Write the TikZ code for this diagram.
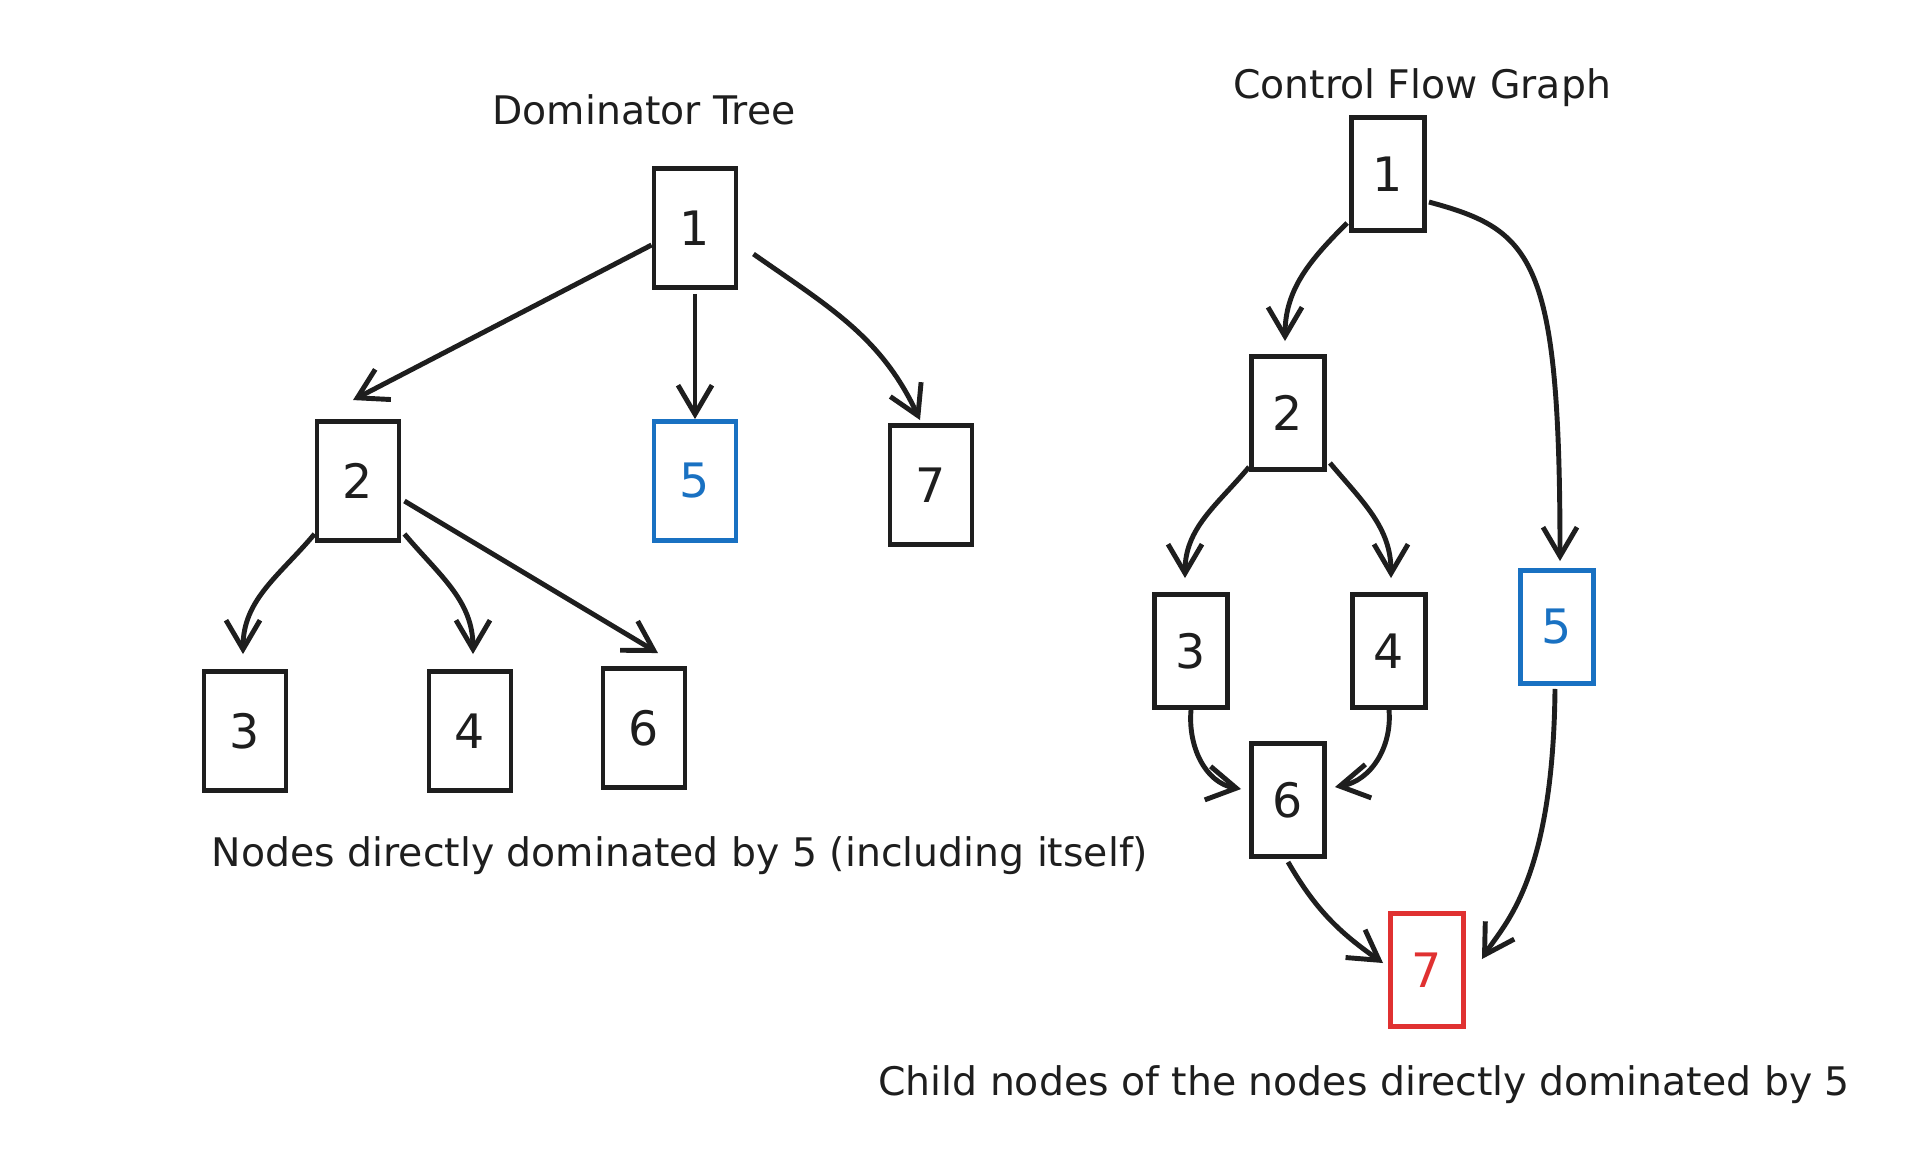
\documentclass[tikz,border=0pt]{standalone}
\usepackage{fontspec}
\setmainfont{DejaVu Sans}
\usetikzlibrary{shapes,arrows.meta}
\definecolor{ink}{HTML}{1E1E1E}
\definecolor{domblue}{HTML}{1971C2}
\definecolor{domred}{HTML}{E03131}
\tikzstyle{block} = [rectangle, draw=ink, line width=1.4pt, text=ink,
    minimum width=0.82cm, minimum height=1.19cm, inner sep=0pt, font=\fontsize{13.5}{15}\selectfont]
\tikzstyle{cfblock} = [block, minimum width=0.73cm, minimum height=1.13cm]
\tikzstyle{line} = [draw=ink, line width=1.4pt, -{Straight Barb[length=2.9mm, width=3.4mm]}]
\tikzstyle{caption} = [text=ink, font=\fontsize{11.2}{13}\selectfont]

\begin{document}
\begin{tikzpicture}[node distance = 2.5cm, auto]
        \useasboundingbox (0,0) rectangle (19.23,-11.65);
        % Place nodes: dominator tree
        \node [block] (dt1) at (6.95,-2.28) {1};
        \node [block, below of=dt1, node distance=2.53cm, xshift=-3.37cm] (dt2) {2};
        \node [block, below of=dt1, node distance=2.53cm, draw=domblue, text=domblue] (dt5) {5};
        \node [block, below of=dt1, node distance=2.57cm, xshift=2.36cm] (dt7) {7};
        \node [block, below of=dt2, xshift=-1.13cm] (dt3) {3};
        \node [block, below of=dt2, xshift=1.12cm] (dt4) {4};
        \node [block, below of=dt2, node distance=2.47cm, xshift=2.86cm] (dt6) {6};
        \node [caption, above of=dt1, node distance=1.18cm, xshift=-0.51cm] (dttitle) {Dominator Tree};
        \node [caption] (dtnote) at (6.80,-8.56) {Nodes directly dominated by 5 (including itself)};
        % Place nodes: control flow graph
        \node [cfblock] (cf1) at (13.88,-1.74) {1};
        \node [cfblock, below of=cf1, node distance=2.39cm, xshift=-1.0cm] (cf2) {2};
        \node [cfblock, below of=cf2, node distance=2.38cm, xshift=-0.97cm] (cf3) {3};
        \node [cfblock, below of=cf2, node distance=2.38cm, xshift=1.01cm] (cf4) {4};
        \node [cfblock, below of=cf1, node distance=4.53cm, xshift=1.69cm, draw=domblue, text=domblue] (cf5) {5};
        \node [cfblock, below of=cf2, node distance=3.87cm] (cf6) {6};
        \node [cfblock, below of=cf6, node distance=1.70cm, xshift=1.39cm, draw=domred, text=domred] (cf7) {7};
        \node [caption, above of=cf1, node distance=0.86cm, xshift=0.34cm] (cftitle) {Control Flow Graph};
        \node [caption] (cfnote) at (13.64,-10.85) {Child nodes of the nodes directly dominated by 5};
        % Draw edges: dominator tree
        \path [line] ([yshift=-0.17cm]dt1.west) -- ([xshift=-0.05cm,yshift=0.19cm]dt2.north);
        \path [line] ([yshift=-0.04cm]dt1.south) -- (dt5.north);
        \path [line] ([xshift=0.15cm,yshift=-0.26cm]dt1.east) to[out=-35, in=115] ([xshift=-0.11cm,yshift=0.03cm]dt7.north);
        \path [line] ([yshift=0.09cm]dt2.south west) to[out=-130, in=90] ([xshift=-0.02cm,yshift=0.15cm]dt3.north);
        \path [line] ([xshift=0.03cm,yshift=0.09cm]dt2.south east) to[out=-50, in=90] ([xshift=0.03cm,yshift=0.15cm]dt4.north);
        \path [line] ([xshift=0.03cm,yshift=-0.2cm]dt2.east) -- ([xshift=0.14cm,yshift=0.13cm]dt6.north);
        % Draw edges: control flow graph
        \path [line] ([xshift=-0.02cm,yshift=0.1cm]cf1.south west) to[out=-135, in=90] ([xshift=-0.03cm,yshift=0.13cm]cf2.north);
        \path [line] ([xshift=0.02cm,yshift=-0.28cm]cf1.east) .. controls +(1.04,-0.28) and +(0,3.04) .. ([xshift=0.03cm,yshift=0.07cm]cf5.north);
        \path [line] ([yshift=0.05cm]cf2.south west) to[out=-130, in=90] ([xshift=-0.06cm,yshift=0.14cm]cf3.north);
        \path [line] ([xshift=0.03cm,yshift=0.09cm]cf2.south east) to[out=-50, in=90] ([xshift=0.02cm,yshift=0.14cm]cf4.north);
        \path [line] (cf3.south) to[out=-95, in=170] ([xshift=-0.08cm,yshift=0.11cm]cf6.west);
        \path [line] (cf4.south) to[out=-85, in=10] ([xshift=0.08cm,yshift=0.13cm]cf6.east);
        \path [line] ([yshift=-0.03cm]cf6.south) to[out=-60, in=145] ([xshift=-0.05cm,yshift=0.07cm]cf7.west);
        \path [line] ([xshift=-0.02cm,yshift=-0.03cm]cf5.south) .. controls +(-0.02,-1.94) and +(0.21,0.34) .. ([xshift=0.16cm,yshift=0.11cm]cf7.east);
    \end{tikzpicture}
\end{document}
